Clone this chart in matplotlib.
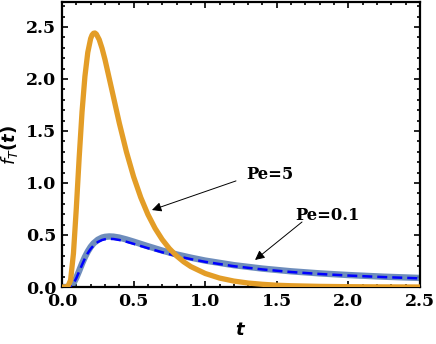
import matplotlib
matplotlib.use("Agg")
import matplotlib.pyplot as plt
from matplotlib.ticker import MultipleLocator

# Pe = 5 curve (orange)
t_pe5 = [0.0, 0.02, 0.04, 0.06, 0.08, 0.10, 0.12, 0.14, 0.16, 0.18, 0.20, 0.21, 0.22, 0.23, 0.24,
         0.26, 0.28, 0.30, 0.35, 0.40, 0.45, 0.50, 0.55, 0.60, 0.65, 0.70, 0.75, 0.80,
         0.85, 0.90, 1.0, 1.1, 1.2, 1.3, 1.4, 1.5, 1.6, 1.8, 2.0, 2.25, 2.5]
f_pe5 = [0.0, 0.0, 0.002, 0.066, 0.323, 0.758, 1.246, 1.685, 2.024, 2.255, 2.388, 2.423, 2.439, 2.442, 2.431,
         2.378, 2.293, 2.188, 1.884, 1.577, 1.299, 1.060, 0.861, 0.697, 0.564, 0.456, 0.369, 0.299,
         0.242, 0.196, 0.130, 0.086, 0.057, 0.038, 0.026, 0.017, 0.012, 0.006, 0.003, 0.001, 0.0]

# Pe = 0.1 curves (thick blue and dashed blue)
t_pe01 = [0.0, 0.02, 0.04, 0.06, 0.08, 0.10, 0.12, 0.14, 0.16, 0.18, 0.20, 0.22, 0.25,
          0.28, 0.30, 0.33, 0.36, 0.40, 0.45, 0.50, 0.60, 0.70, 0.80, 0.90, 1.0, 1.2,
          1.4, 1.6, 1.8, 2.0, 2.25, 2.5]
f_pe01_thick = [0.0, 0.0, 0.0, 0.007, 0.036, 0.089, 0.156, 0.225, 0.288, 0.341, 0.385, 0.419, 0.454,
                0.475, 0.482, 0.486, 0.484, 0.475, 0.457, 0.436, 0.392, 0.350, 0.313, 0.282, 0.254, 0.210,
                0.177, 0.151, 0.131, 0.115, 0.099, 0.087]
f_pe01_dash = [0.0, 0.0, 0.0, 0.007, 0.034, 0.085, 0.149, 0.214, 0.274, 0.325, 0.366, 0.398, 0.432,
               0.452, 0.459, 0.463, 0.461, 0.452, 0.435, 0.415, 0.373, 0.334, 0.298, 0.268, 0.242, 0.200,
               0.169, 0.144, 0.125, 0.110, 0.095, 0.083]

xticks = [0.0, 0.5, 1.0, 1.5, 2.0, 2.5]
yticks = [0.0, 0.5, 1.0, 1.5, 2.0, 2.5]
labels = ["Pe=5", "Pe=0.1"]

fig = plt.figure(figsize=(4.36, 3.44), dpi=100)
ax = fig.add_axes([62/436, 57/344, (420-62)/436, (287-2)/344])

ax.plot(t_pe01, f_pe01_thick, color="#5E81B5", lw=4.6, alpha=0.9, solid_joinstyle="round", zorder=2)
ax.plot(t_pe01, f_pe01_dash, color="#0000FF", lw=1.8, dashes=(4, 2), zorder=3)
ax.plot(t_pe5, f_pe5, color="#E39D27", lw=3.8, zorder=4, solid_joinstyle="round")

ax.set_xlim(0, 2.5)
ax.set_ylim(0, 2.74)

ax.set_xticks(xticks)
ax.set_yticks(yticks)
ax.xaxis.set_minor_locator(MultipleLocator(0.1))
ax.yaxis.set_minor_locator(MultipleLocator(0.1))
ax.tick_params(which="both", direction="in", top=True, right=True, width=1.2, color="black")
ax.tick_params(which="major", length=4.5)
ax.tick_params(which="minor", length=2.5)
ax.tick_params(axis="both", which="major", pad=4)
ax.set_xticklabels([f"{v:.1f}" for v in xticks], fontfamily="DejaVu Serif", fontweight="bold", fontsize=12.5)
ax.set_yticklabels([f"{v:.1f}" for v in yticks], fontfamily="DejaVu Serif", fontweight="bold", fontsize=12.5)

for s in ax.spines.values():
    s.set_linewidth(1.6)

ax.set_xlabel(r"$\boldsymbol{t}$", fontsize=13, labelpad=8)
ax.set_ylabel(r"$\boldsymbol{f_T(t)}$", fontsize=13, labelpad=4)

ax.annotate("", xy=(0.628, 0.74), xytext=(1.215, 1.02),
            arrowprops=dict(arrowstyle="-|>", color="black", lw=0.7, mutation_scale=14,
                            shrinkA=0, shrinkB=0))
ax.text(1.29, 1.077, labels[0], fontfamily="DejaVu Serif", fontweight="bold", fontsize=11.8,
        va="center", ha="left")
ax.annotate("", xy=(1.348, 0.26), xytext=(1.676, 0.625),
            arrowprops=dict(arrowstyle="-|>", color="black", lw=0.7, mutation_scale=14,
                            shrinkA=0, shrinkB=0))
ax.text(1.627, 0.69, labels[1], fontfamily="DejaVu Serif", fontweight="bold", fontsize=11.8,
        va="center", ha="left")

fig.savefig("out.png", dpi=100)
